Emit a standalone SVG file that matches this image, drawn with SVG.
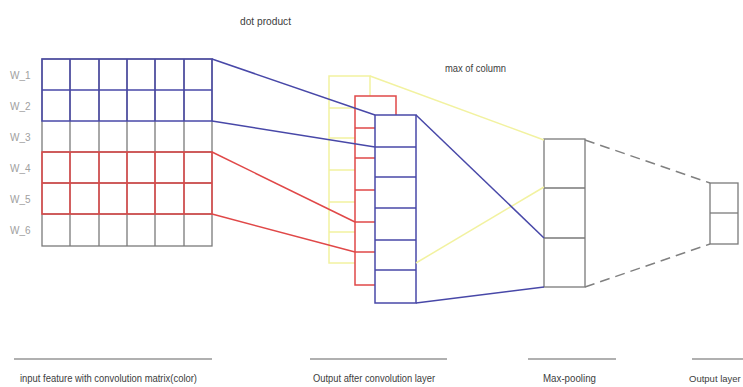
<svg xmlns="http://www.w3.org/2000/svg" width="743" height="387" viewBox="0 0 743 387">
<style>
.g{fill:none;stroke:#7a7a7a;stroke-width:1.3}
.b{fill:none;stroke:#4848a8;stroke-width:1.5}
.r{fill:none;stroke:#e04848;stroke-width:1.5}
.y{fill:none;stroke:#f2f2a0;stroke-width:1.5}
.col{fill:#fff}
.wl{font-family:"Liberation Sans",Arial,sans-serif;font-size:10px;fill:#a0a0a0}
.lb{font-family:"Liberation Sans",Arial,sans-serif;font-size:10px;fill:#404040}
.ul{stroke:#b0b0b0;stroke-width:2}
.dash{stroke:#808080;stroke-width:1.5;stroke-dasharray:10 6;fill:none}
</style>
<rect width="743" height="387" fill="#fff"/>

<g id="input-matrix">
  <rect x="42" y="59" width="170" height="187" class="g"/>
  <path class="g" d="M70,59V246M99,59V246M127,59V246M155,59V246M184,59V246M42,152H212M42,183H212M42,214H212"/>
  <g id="window-blue">
    <rect x="42" y="59" width="170" height="62" class="b"/>
    <path class="b" d="M42,90H212M70,59V121M99,59V121M127,59V121M155,59V121M184,59V121"/>
  </g>
  <g id="window-red">
    <rect x="42" y="152" width="170" height="62" class="r"/>
    <path class="r" d="M42,183H212M70,152V214M99,152V214M127,152V214M155,152V214M184,152V214"/>
  </g>
  <text class="wl" x="10" y="79">W_1</text>
  <text class="wl" x="10" y="110">W_2</text>
  <text class="wl" x="10" y="141">W_3</text>
  <text class="wl" x="10" y="172">W_4</text>
  <text class="wl" x="10" y="203">W_5</text>
  <text class="wl" x="10" y="234">W_6</text>
</g>

<g id="conv-yellow">
  <rect x="329" y="76" width="41" height="187" class="col y"/>
  <path class="y" d="M329,108H370M329,138H370M329,170H370M329,202H370M329,232H370"/>
</g>
<g id="conv-red">
  <rect x="355" y="96" width="41" height="189" class="col r"/>
  <path class="r" d="M355,128H396M355,158H396M355,190H396M355,222H396M355,252H396"/>
</g>
<g id="conv-blue">
  <rect x="375" y="115" width="41" height="188" class="col b"/>
  <path class="b" d="M375,147H416M375,177H416M375,208H416M375,240H416M375,270H416"/>
</g>

<g id="maxpool">
  <rect x="544" y="139" width="41" height="148" class="g"/>
  <path class="g" d="M544,188H585M544,238H585"/>
</g>

<g id="output">
  <rect x="710" y="183" width="28" height="61" class="g"/>
  <path class="g" d="M710,213H738"/>
</g>

<g id="connectors">
  <line x1="212" y1="59" x2="375" y2="115" class="b"/>
  <line x1="212" y1="121" x2="375" y2="147" class="b"/>
  <line x1="212" y1="152" x2="355" y2="222" class="r"/>
  <line x1="212" y1="214" x2="355" y2="252" class="r"/>
  <line x1="370" y1="76" x2="544" y2="140" class="y"/>
  <line x1="416" y1="263" x2="544" y2="187" class="y"/>
  <line x1="416" y1="115" x2="544" y2="238" class="b"/>
  <line x1="416" y1="303" x2="544" y2="287" class="b"/>
  <line x1="585" y1="140" x2="710" y2="183" class="dash"/>
  <line x1="585" y1="287" x2="710" y2="244" class="dash"/>
</g>

<g id="annotations">
  <text class="lb" x="240" y="25" textLength="51" lengthAdjust="spacingAndGlyphs">dot product</text>
  <text class="lb" x="445" y="72" textLength="61" lengthAdjust="spacingAndGlyphs">max of column</text>
</g>

<g id="captions">
  <line x1="14" y1="359" x2="212" y2="359" class="ul"/>
  <text class="lb" x="20" y="382" textLength="177" lengthAdjust="spacingAndGlyphs">input feature with convolution matrix(color)</text>
  <line x1="310" y1="359" x2="447" y2="359" class="ul"/>
  <text class="lb" x="313" y="382" textLength="122" lengthAdjust="spacingAndGlyphs">Output after convolution layer</text>
  <line x1="528" y1="359" x2="616" y2="359" class="ul"/>
  <text class="lb" x="543" y="382" textLength="53" lengthAdjust="spacingAndGlyphs">Max-pooling</text>
  <line x1="692" y1="359" x2="743" y2="359" class="ul"/>
  <text class="lb" x="689" y="382" style="font-size:9.5px">Output layer</text>
</g>
</svg>
